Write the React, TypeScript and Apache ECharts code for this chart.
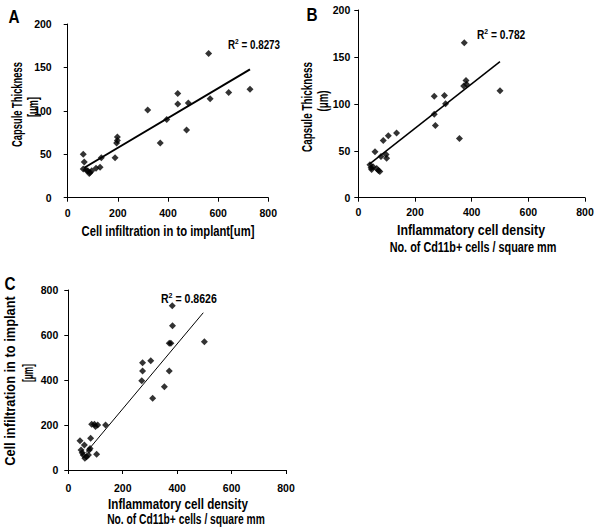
import React, { useEffect, useRef } from "react";
import * as echarts from "echarts";

const aX = [62, 66, 62, 73, 80, 89, 86, 96, 113, 129, 134, 189, 195, 198, 198, 319, 369, 395, 439, 439, 474, 481, 562, 568, 642, 727];
const aY = [50, 41, 33, 32, 31, 29, 28, 31, 34, 35, 46, 46, 63, 66, 70, 101, 63, 90, 108, 120, 78, 109, 166, 114, 121, 125];
const aTrendX = [66, 727];
const aTrendY = [34.5, 147.8];

const bX = [41, 45, 47, 52, 59, 65, 71, 76, 80, 88, 98, 100, 106, 135, 268, 268, 272, 304, 308, 357, 374, 372, 380, 382, 500];
const bY = [35, 32, 30, 33, 49, 31, 29, 28, 44, 61, 46, 42, 66, 69, 108, 89, 77, 109, 100, 63, 165, 119, 125, 121, 114];
const bTrendX = [38, 500];
const bTrendY = [35.5, 145];

const cX = [43, 47, 51, 55, 59, 61, 67, 74, 77, 80, 82, 86, 96, 100, 104, 108, 137, 270, 273, 273, 303, 310, 353, 371, 371, 377, 383, 382, 500];
const cY = [130, 89, 77, 67, 111, 52, 59, 67, 89, 96, 141, 203, 203, 193, 70, 200, 200, 397, 440, 477, 486, 319, 370, 440, 563, 563, 641, 730, 570];
const cTrendX = [65, 496];
const cTrendY = [77, 699];

const FONT = "'Liberation Sans', Arial, sans-serif";

const zip = (xs: number[], ys: number[]) => xs.map((x, i) => [x, ys[i]]);

const measure = (text: string, size: number) => {
  const span = document.createElement("span");
  span.style.cssText = `position:absolute;left:-9999px;top:0;white-space:pre;font-weight:bold;font-size:${size}px;font-family:${FONT};`;
  span.textContent = text;
  document.body.appendChild(span);
  const w = span.getBoundingClientRect().width;
  document.body.removeChild(span);
  return w || 1;
};

export default function App() {
  const ref = useRef<HTMLDivElement>(null);
  useEffect(() => {
    if (!ref.current) return;
    const chart = echarts.init(ref.current, null, { renderer: "svg" });
    const axisCommon = {
      axisLine: { show: true, lineStyle: { color: "#000", width: 1 } },
      axisTick: { show: true, length: 4, lineStyle: { color: "#000" } },
      splitLine: { show: false },
      axisLabel: { color: "#000", fontFamily: FONT, fontWeight: "bold", fontSize: 10.5 },
    };
    const xAx = (gi: number, max: number, interval: number, margin: number) => ({
      type: "value", gridIndex: gi, min: 0, max, interval, ...axisCommon,
      axisLabel: { ...axisCommon.axisLabel, margin },
    });
    const yAx = (gi: number, max: number, interval: number, margin: number) => ({
      type: "value", gridIndex: gi, min: 0, max, interval, ...axisCommon,
      axisLabel: { ...axisCommon.axisLabel, margin },
    });
    const scatter = (gi: number, data: number[][]) => ({
      type: "scatter", xAxisIndex: gi, yAxisIndex: gi, data,
      symbol: "diamond", symbolSize: 7, itemStyle: { color: "#000" },
    });
    const trend = (gi: number, data: number[][], w: number) => ({
      type: "line", xAxisIndex: gi, yAxisIndex: gi, data, showSymbol: false,
      lineStyle: { color: "#000", width: w }, silent: true,
    });
    const txt = (x: number, y: number, text: string, size: number, width: number, rotation = 0) => ({
      type: "text", x, y, rotation,
      scaleX: width / measure(text, size),
      style: {
        text, fill: "#000", fontFamily: FONT, fontWeight: "bold", fontSize: size,
        align: "center", verticalAlign: "middle",
      },
    });
    const letter = (x: number, y: number, text: string) => ({
      type: "text", x, y, scaleX: 0.85,
      style: { text, fill: "#000", fontFamily: FONT, fontWeight: "bold", fontSize: 18, align: "center", verticalAlign: "middle" },
    });
    const r2 = (x: number, y: number, val: string, sx: number) => ({
      type: "text", x, y, scaleX: sx,
      style: {
        text: "R{sup|2} = " + val,
        fill: "#000", fontFamily: FONT, fontWeight: "bold", fontSize: 12,
        align: "left", verticalAlign: "middle",
        rich: { sup: { fontSize: 8, fontFamily: FONT, fontWeight: "bold", padding: [0, 0, 7, 0] } },
      },
    });
    const UP = Math.PI / 2;
    chart.setOption({
      animation: false,
      backgroundColor: "#fff",
      grid: [
        { left: 67.7, top: 24, width: 200.6, height: 173.7 },
        { left: 358.3, top: 10, width: 226.7, height: 187.7 },
        { left: 68.3, top: 290, width: 217.7, height: 180 },
      ],
      xAxis: [xAx(0, 800, 200, 10), xAx(1, 800, 200, 9), xAx(2, 800, 200, 12)],
      yAxis: [yAx(0, 200, 50, 16), yAx(1, 200, 50, 8), yAx(2, 800, 200, 10)],
      series: [
        scatter(0, zip(aX, aY)), trend(0, zip(aTrendX, aTrendY), 2),
        scatter(1, zip(bX, bY)), trend(1, zip(bTrendX, bTrendY), 1.5),
        scatter(2, zip(cX, cY)), trend(2, zip(cTrendX, cTrendY), 1),
      ],
      graphic: [
        letter(14, 17, "A"),
        letter(312, 15, "B"),
        letter(10, 284, "C"),
        txt(17, 104.5, "Capsule Thickness", 14, 85, UP),
        txt(33, 107, "[um]", 14, 20, UP),
        txt(168, 232, "Cell infiltration in to implant[um]", 14, 173),
        txt(307, 107, "Capsule Thickness", 14, 90, UP),
        txt(323, 101, "(\u03bcm)", 14, 21, UP),
        txt(471, 230, "Inflammatory cell density", 14, 148),
        txt(473, 248, "No. of Cd11b+ cells / square mm", 14, 167),
        txt(10, 381, "Cell infiltration in to implant", 14, 170, UP),
        txt(28, 373, "[\u03bcm]", 14, 18, UP),
        txt(178, 504, "Inflammatory cell density", 14, 140),
        txt(186, 519, "No. of Cd11b+ cells / square mm", 14, 158),
        r2(228, 45, "0.8273", 0.82),
        r2(477, 35, "0.782", 0.85),
        r2(161, 299, "0.8626", 0.88),
      ],
    });
    return () => chart.dispose();
  }, []);
  return <div ref={ref} style={{ position: "fixed", left: 0, top: 0, width: 602, height: 530 }} />;
}
